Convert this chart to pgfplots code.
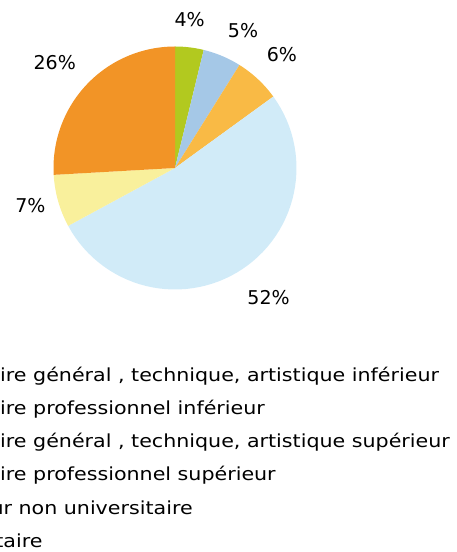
\documentclass[border=0pt]{standalone}
\usepackage{fontspec}
\setmainfont{DejaVu Sans}
\newfontfamily\legfam[FakeStretch=1.145]{DejaVu Sans}
\usepackage{pgfplots}
\pgfplotsset{compat=1.18}
\definecolor{cGreen}{HTML}{B2C91F}
\definecolor{cLBlue}{HTML}{A5C8E7}
\definecolor{cYOr}{HTML}{F9BA45}
\definecolor{cPBlue}{HTML}{D1EBF8}
\definecolor{cPYel}{HTML}{F9F09C}
\definecolor{cOrange}{HTML}{F29426}
% slice: start percent, end percent (cumulative, clockwise from top), colour
\newcommand{\slice}[3]{%
  \addplot[fill=#3, draw=none, domain={90-3.6*(#2)}:{90-3.6*(#1)}, samples=60, variable=\t]
    ({cos(\t)},{sin(\t)}) -- (axis cs:0,0) -- cycle;}
\newlength{\hid}
\newcommand{\legfont}{\legfam\fontsize{18bp}{21bp}\selectfont}
\begin{document}
\settowidth{\hid}{\legfont Seconda}%
\begin{tikzpicture}[x=1bp,y=1bp]
\useasboundingbox (0bp,0bp) rectangle (457bp,552bp);
\clip (0bp,0bp) rectangle (457bp,552bp);
\begin{axis}[at={(175bp,384bp)}, anchor=center, scale only axis,
  width=364.5bp, height=364.5bp, xmin=-1.5, xmax=1.5, ymin=-1.5, ymax=1.5,
  hide axis, clip=false]
% values: 3.8, 5.1, 6.1, 52.1, 7.0, 25.9 (percent)
\slice{0}{3.8}{cGreen}
\slice{3.8}{8.9}{cLBlue}
\slice{8.9}{15.0}{cYOr}
\slice{15.0}{67.1}{cPBlue}
\slice{67.1}{74.1}{cPYel}
\slice{74.1}{100}{cOrange}
\begin{scope}[font=\fontsize{19bp}{22bp}\selectfont]
\node at (axis cs:0.12,1.22) {4\%};
\node at (axis cs:0.56,1.13) {5\%};
\node at (axis cs:0.88,0.93) {6\%};
\node at (axis cs:0.77,-1.07) {52\%};
\node at (axis cs:-1.19,-0.31) {7\%};
\node at (axis cs:-0.99,0.87) {26\%};
\end{scope}
\end{axis}
\begin{scope}[font=\legfont]
\node[anchor=base west, inner sep=0pt] at ([xshift=-\hid+2bp]0,204bp) {Primaire};
\node[anchor=base west, inner sep=0pt] at (-\hid,170.8bp) {Secondaire général , technique, artistique inférieur};
\node[anchor=base west, inner sep=0pt] at (-\hid,137.6bp) {Secondaire professionnel inférieur};
\node[anchor=base west, inner sep=0pt] at (-\hid,104.4bp) {Secondaire général , technique, artistique supérieur};
\node[anchor=base west, inner sep=0pt] at (-\hid,71.2bp) {Secondaire professionnel supérieur};
\node[anchor=base west, inner sep=0pt] at (-\hid,38bp) {Supérieur non universitaire};
\node[anchor=base west, inner sep=0pt] at (-\hid,4.8bp) {Universitaire};
\end{scope}
\end{tikzpicture}
\end{document}
